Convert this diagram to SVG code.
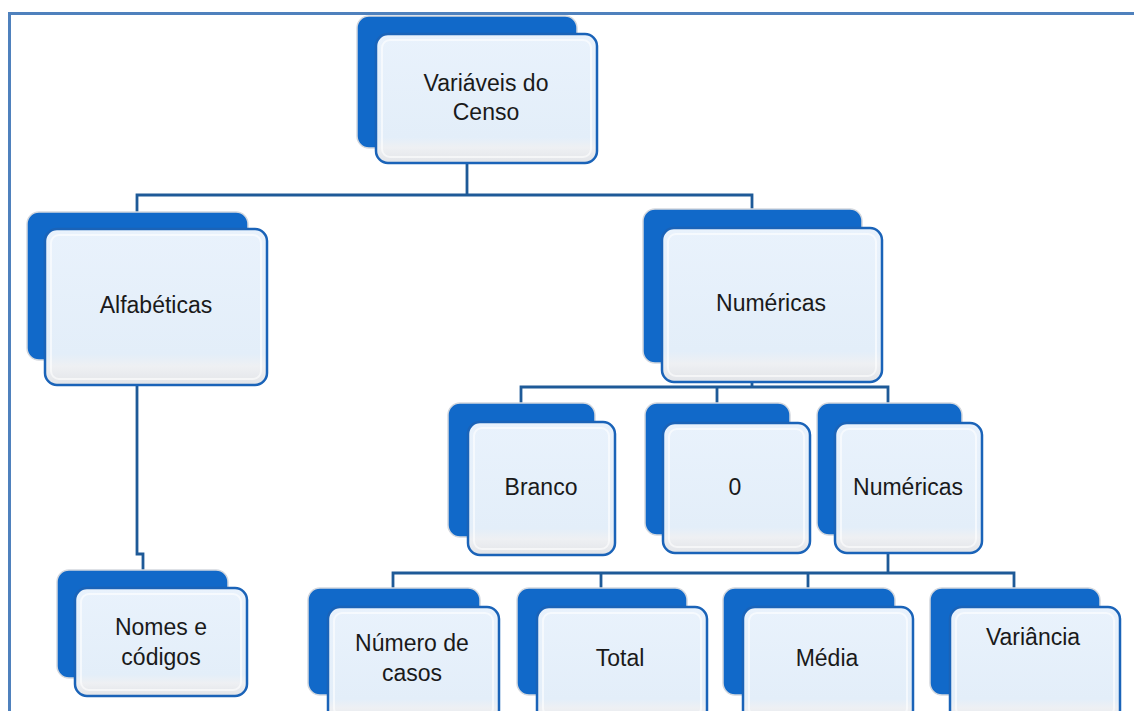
<svg xmlns="http://www.w3.org/2000/svg" width="1134" height="711" viewBox="0 0 1134 711">
<defs>
<linearGradient id="fg" x1="0" y1="0" x2="0" y2="1">
<stop offset="0" stop-color="#e9f2fc"/>
<stop offset="0.8" stop-color="#e3eef9"/>
<stop offset="0.88" stop-color="#eef0f3"/>
<stop offset="1" stop-color="#e2e4e8"/>
</linearGradient>
<style>
.back{fill:#1169c9;stroke:#d4d8de;stroke-width:1.5}
.front{fill:url(#fg);stroke:#1a63b8;stroke-width:2.5}
.inner{fill:none;stroke:#ffffff;stroke-opacity:0.6;stroke-width:2}
.lbl{font-family:"Liberation Sans",Arial,sans-serif;font-size:23px;fill:#1a1a1a;text-anchor:middle}
.conn{fill:none;stroke:#1e5a98;stroke-width:2.8}
.frame{fill:none;stroke:#4f81bd;stroke-width:3}
</style>
</defs>
<rect width="1134" height="711" fill="#ffffff"/>
<path class="frame" d="M9.5 740 V13.5 H1140"/>
<g id="connectors">
<path class="conn" d="M467 163 V195 M137 213 V195 H752 V211"/>
<path class="conn" d="M137 385 V554 H143 V571"/>
<path class="conn" d="M752 382 V387 M521 403 V387 H888 V403 M717 387 V403"/>
<path class="conn" d="M888 553 V573 M393 588 V573 H1014 V588 M601 573 V588 M808 573 V588"/>
</g>
<g id="n-variaveis">
<rect class="back" x="357" y="16" width="220" height="132" rx="12"/>
<rect class="front" x="376" y="34" width="221" height="129" rx="12"/>
<rect class="inner" x="382" y="40" width="209" height="117" rx="8"/>
<text class="lbl" x="486" y="91">Variáveis do</text>
<text class="lbl" x="486" y="120">Censo</text>
</g>
<g id="n-alfabeticas">
<rect class="back" x="27" y="212" width="221" height="148" rx="12"/>
<rect class="front" x="45" y="229" width="222" height="156" rx="12"/>
<rect class="inner" x="51" y="235" width="210" height="144" rx="8"/>
<text class="lbl" x="156" y="313">Alfabéticas</text>
</g>
<g id="n-numericas">
<rect class="back" x="643" y="209" width="219" height="154" rx="12"/>
<rect class="front" x="662" y="228" width="220" height="154" rx="12"/>
<rect class="inner" x="668" y="234" width="208" height="142" rx="8"/>
<text class="lbl" x="771" y="311">Numéricas</text>
</g>
<g id="n-nomes">
<rect class="back" x="57" y="570" width="171" height="108" rx="12"/>
<rect class="front" x="75" y="588" width="172" height="108" rx="12"/>
<rect class="inner" x="81" y="594" width="160" height="96" rx="8"/>
<text class="lbl" x="161" y="635">Nomes e</text>
<text class="lbl" x="161" y="665">códigos</text>
</g>
<g id="n-branco">
<rect class="back" x="448" y="403" width="147" height="134" rx="12"/>
<rect class="front" x="468" y="422" width="147" height="133" rx="12"/>
<rect class="inner" x="474" y="428" width="135" height="121" rx="8"/>
<text class="lbl" x="541" y="495">Branco</text>
</g>
<g id="n-zero">
<rect class="back" x="645" y="403" width="145" height="132" rx="12"/>
<rect class="front" x="663" y="423" width="147" height="130" rx="12"/>
<rect class="inner" x="669" y="429" width="135" height="118" rx="8"/>
<text class="lbl" x="735" y="495">0</text>
</g>
<g id="n-numericas2">
<rect class="back" x="817" y="403" width="145" height="132" rx="12"/>
<rect class="front" x="835" y="423" width="147" height="130" rx="12"/>
<rect class="inner" x="841" y="429" width="135" height="118" rx="8"/>
<text class="lbl" x="908" y="495">Numéricas</text>
</g>
<g id="n-numero">
<rect class="back" x="308" y="588" width="172" height="107" rx="12"/>
<rect class="front" x="328" y="607" width="171" height="115" rx="12"/>
<rect class="inner" x="334" y="613" width="159" height="103" rx="8"/>
<text class="lbl" x="412" y="651">Número de</text>
<text class="lbl" x="412" y="681">casos</text>
</g>
<g id="n-total">
<rect class="back" x="517" y="588" width="170" height="107" rx="12"/>
<rect class="front" x="537" y="607" width="170" height="115" rx="12"/>
<rect class="inner" x="543" y="613" width="158" height="103" rx="8"/>
<text class="lbl" x="620" y="666">Total</text>
</g>
<g id="n-media">
<rect class="back" x="723" y="588" width="172" height="107" rx="12"/>
<rect class="front" x="743" y="607" width="170" height="115" rx="12"/>
<rect class="inner" x="749" y="613" width="158" height="103" rx="8"/>
<text class="lbl" x="827" y="666">Média</text>
</g>
<g id="n-variancia">
<rect class="back" x="930" y="588" width="170" height="107" rx="12"/>
<rect class="front" x="950" y="607" width="170" height="115" rx="12"/>
<rect class="inner" x="956" y="613" width="158" height="103" rx="8"/>
<text class="lbl" x="1033" y="645">Variância</text>
</g>
</svg>
